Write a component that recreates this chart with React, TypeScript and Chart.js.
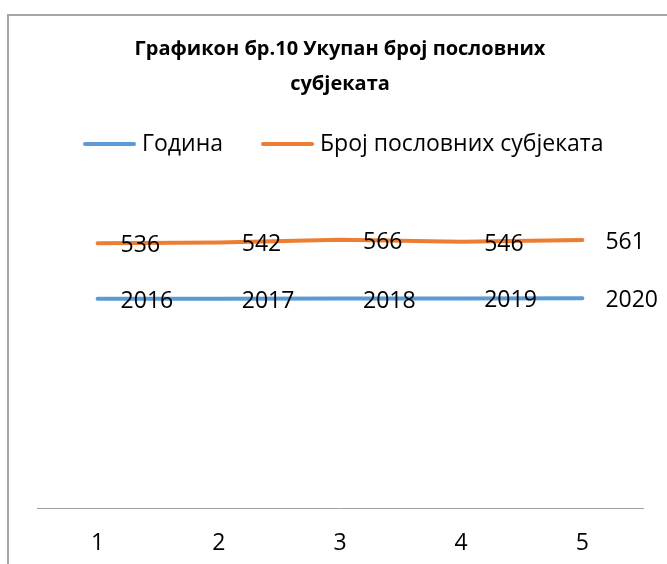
import React, { useEffect, useRef } from 'react';
import { Chart, registerables } from 'chart.js';

Chart.register(...registerables);

// ---- data ----
const categories = ['1', '2', '3', '4', '5'];
const seriesNames = ['Година', 'Број пословних субјеката'];
const years = [2016, 2017, 2018, 2019, 2020];
const businessCount = [536, 542, 566, 546, 561];
const titleLines = ['Графикон бр.10 Укупан број пословних', 'субјеката'];
const seriesColors = ['#5B9BD5', '#ED7D31'];

const FONT = '"Open Sans", "Noto Sans", sans-serif';
const LABEL_SIZE = 23;
const LEGEND_SIZE = 23;
const TITLE_SIZE = 20;

function makeLegendLine(color: string, w: number, x0: number, x1: number) {
  const c = document.createElement('canvas');
  c.width = Math.ceil(w);
  c.height = 8;
  const g = c.getContext('2d')!;
  g.strokeStyle = color;
  g.lineWidth = 4;
  g.lineCap = 'round';
  g.beginPath();
  g.moveTo(x0 + 2, 4);
  g.lineTo(x1 - 2, 4);
  g.stroke();
  return c;
}

const framePlugin = {
  id: 'frame',
  beforeDraw(chart: any) {
    const ctx = chart.ctx;
    ctx.save();
    ctx.strokeStyle = '#a6a6a6';
    ctx.lineWidth = 2;
    ctx.beginPath();
    ctx.moveTo(8, 700);
    ctx.lineTo(8, 15);
    ctx.lineTo(900, 15);
    ctx.stroke();
    ctx.restore();
  },
};

const dataLabelPlugin = {
  id: 'dataLabels',
  afterDatasetsDraw(chart: any) {
    const ctx = chart.ctx;
    ctx.save();
    ctx.font = `${LABEL_SIZE}px ${FONT}`;
    ctx.fillStyle = '#000';
    ctx.textAlign = 'left';
    ctx.textBaseline = 'alphabetic';
    chart.data.datasets.forEach((ds: any, i: number) => {
      const meta = chart.getDatasetMeta(i);
      meta.data.forEach((pt: any, j: number) => {
        ctx.fillText(String(ds.data[j]), pt.x + 23, pt.y + 9);
      });
    });
    ctx.restore();
  },
};

export default function App() {
  const ref = useRef<HTMLCanvasElement>(null);

  useEffect(() => {
    if (!ref.current) return;

    // legend geometry (target positions from the reference)
    const m = document.createElement('canvas').getContext('2d')!;
    m.font = `${LEGEND_SIZE}px ${FONT}`;
    const tw1 = m.measureText(seriesNames[0]).width;
    const tw2 = m.measureText(seriesNames[1]).width;
    const areaL = 37, areaR = 643;
    const T1 = 142, T2 = 320, lineLen = 53, gap = 6;
    const half = LEGEND_SIZE / 2;
    const p = Math.max(4, areaL + areaR - 2 * T1 - tw1 - tw2);
    const s = Math.max(half + 4, T2 - T1 - tw1 - p);
    const B = s - half;
    const a = s - gap - lineLen - B / 2;
    const b = s - gap - B / 2;
    const hw = Math.max(Math.abs(a), Math.abs(b)) + 1;
    const imgs = seriesColors.map((c) => makeLegendLine(c, 2 * hw, hw + a, hw + b));

    const legendCenter = 144;
    const legendTop = legendCenter - p - half;
    const titleTop = 31.5;
    const titleLH = 35;
    const pb = legendTop - (titleTop + 2 * titleLH);

    const chart = new Chart(ref.current, {
      type: 'line',
      data: {
        labels: categories,
        datasets: [
          {
            label: seriesNames[0],
            data: years,
            borderColor: seriesColors[0],
            backgroundColor: seriesColors[0],
            borderWidth: 4,
            borderCapStyle: 'round',
            borderJoinStyle: 'round',
            pointRadius: 0,
            pointHoverRadius: 0,
            pointStyle: imgs[0] as any,
            tension: 0,
            fill: false,
          },
          {
            label: seriesNames[1],
            data: businessCount,
            borderColor: seriesColors[1],
            backgroundColor: seriesColors[1],
            borderWidth: 4,
            borderCapStyle: 'round',
            borderJoinStyle: 'round',
            pointRadius: 0,
            pointHoverRadius: 0,
            pointStyle: imgs[1] as any,
            tension: 0,
            fill: false,
          },
        ],
      },
      options: {
        animation: false,
        responsive: true,
        maintainAspectRatio: false,
        events: [],
        layout: { padding: { left: areaL, right: 667 - areaR, top: 0, bottom: 0 } },
        scales: {
          x: {
            offset: true,
            grid: { display: false, drawTicks: false },
            border: { display: true, color: '#a0a0a0', width: 1 },
            ticks: { color: '#000', font: { family: FONT, size: LABEL_SIZE }, padding: 22 },
            afterFit: (scale: any) => {
              scale.height = 56;
            },
          },
          y: { display: false, stacked: true, min: 0, max: 3300 },
        },
        plugins: {
          title: {
            display: true,
            text: titleLines,
            color: '#000',
            font: { family: FONT, size: TITLE_SIZE, weight: 'bold', lineHeight: `${titleLH}px` },
            padding: { top: titleTop, bottom: pb },
          },
          legend: {
            display: true,
            position: 'top',
            align: 'center',
            labels: {
              usePointStyle: true,
              pointStyleWidth: B,
              padding: p,
              color: '#000',
              font: { family: FONT, size: LEGEND_SIZE },
            },
          },
          tooltip: { enabled: false },
        },
      },
      plugins: [framePlugin, dataLabelPlugin],
    });

    return () => chart.destroy();
  }, []);

  return (
    <div style={{ position: 'fixed', left: 0, top: 0, width: 667, height: 564, background: '#fff' }}>
      <canvas ref={ref} />
    </div>
  );
}
